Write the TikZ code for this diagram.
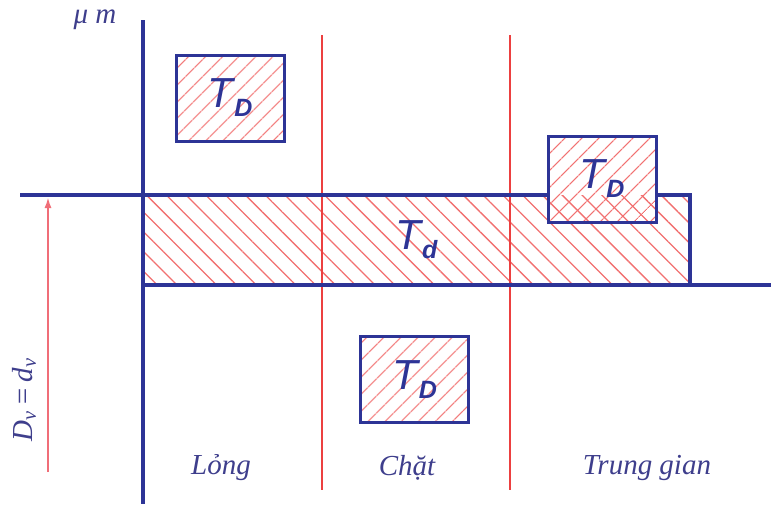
\documentclass[tikz,border=0pt]{standalone}
\usepackage{fontspec}
\setmainfont{Liberation Serif}
\newfontfamily\tolfont{Liberation Sans}
\usetikzlibrary{patterns.meta,arrows.meta}
\definecolor{axblue}{RGB}{45,52,150}
\definecolor{txtblue}{RGB}{62,62,140}
\definecolor{zonered}{RGB}{236,64,64}
\definecolor{dimred}{RGB}{240,110,120}
\newcommand{\tol}[1]{{\tolfont\itshape\fontsize{42}{42}\selectfont T\kern1pt\raisebox{-9pt}{\bfseries\fontsize{25}{25}\selectfont #1}}}
\begin{document}
\begin{tikzpicture}[x=1pt,y=-1pt,
  axis/.style={axblue,line width=3.5pt},
  zone/.style={zonered,line width=1.6pt},
  tolbox/.style={draw=axblue,line width=3pt,inner sep=0pt,outer sep=0pt,
    minimum width=108pt,minimum height=86pt,text=axblue,
    pattern={Lines[angle=45,distance=13pt,line width=1.3pt]},pattern color=zonered!75},
  label/.style={text=txtblue,font=\itshape\fontsize{29}{29}\selectfont}]
  \useasboundingbox (0,0) rectangle (771,504);
  % shaft tolerance zone
  \node[inner sep=0pt,outer sep=0pt,minimum width=547pt,minimum height=90pt,text=axblue,
    pattern={Lines[angle=-45,distance=14pt,line width=1.3pt]},pattern color=zonered!75]
    (shaft) at (416.5,240) {\tol{d}};
  % hole tolerance zones
  \node[tolbox] (holeA) at (230,98) {\tol{D}};
  \node[tolbox] (holeB) at (414.5,379.5) {\tol{D}};
  \node[tolbox] (holeC) at (602,179) {\tol{D}};
  % fit groups
  \coordinate (sepA1) at (322,35);  \coordinate (sepA2) at (322,490);
  \coordinate (sepB1) at (510,35);  \coordinate (sepB2) at (510,490);
  \draw[zone] (sepA1) -- (sepA2);
  \draw[zone] (sepB1) -- (sepB2);
  % zero line and axes
  \coordinate (top) at (143,20);
  \coordinate (bottom) at (143,504);
  \coordinate (zero) at (20,195);
  \coordinate (rim) at (771,285);
  \draw[axis] (top) -- (bottom);
  \draw[axis] (zero) -- (holeC.west |- shaft.north);
  \draw[axis] (holeC.east |- shaft.north) -- (shaft.north east) -- (shaft.south east);
  \draw[axis] (shaft.south west) -- (rim);
  \node[label] (unit) at (95,20) {μ m};
  % nominal size
  \coordinate (dimfoot) at (48,472);
  \coordinate (dimhead) at (48,197);
  \draw[dimred,line width=2pt,-{Latex[length=11pt,width=7pt]}] (dimfoot) -- (dimhead);
  \node[label,rotate=90] (nominal) at (24,400) {D\textsubscript{v}\,=\,d\textsubscript{v}};
  % fit names
  \node[label] (loose) at (221,468) {Lỏng};
  \node[label] (tight) at (407,468) {Chặt};
  \node[label] (middle) at (647,468) {Trung gian};
\end{tikzpicture}
\end{document}
